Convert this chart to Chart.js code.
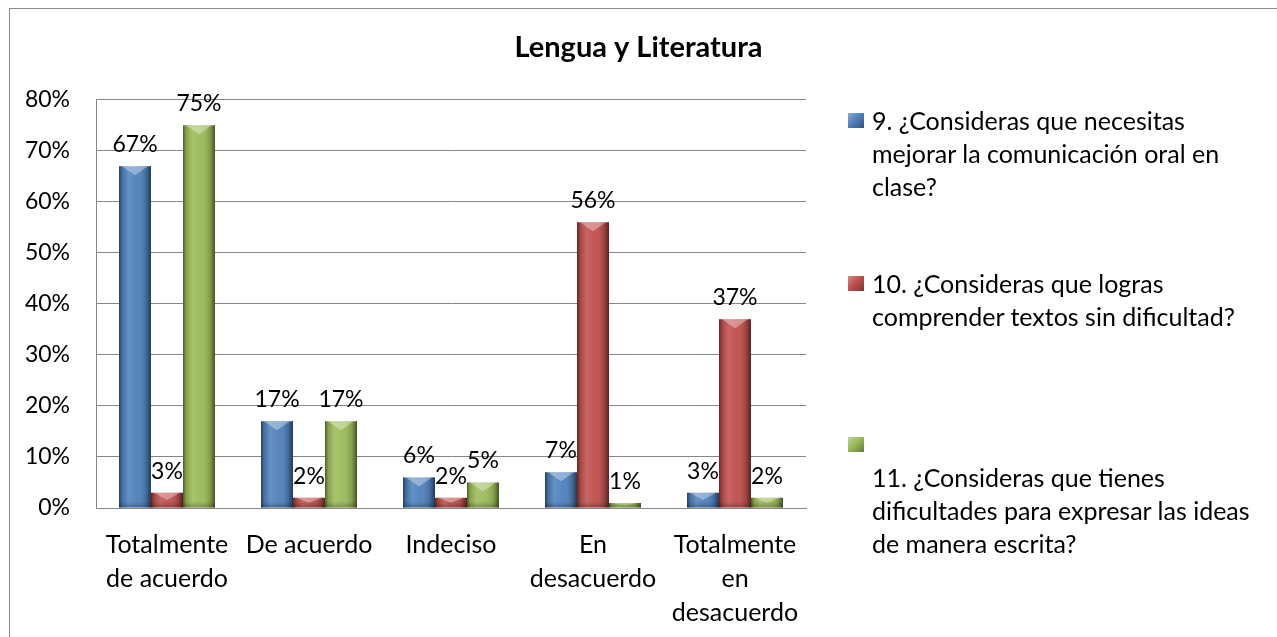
<!DOCTYPE html>
<html>
<head>
<meta charset="utf-8">
<script src="https://cdn.jsdelivr.net/npm/chart.js@4.4.1/dist/chart.umd.min.js"></script>
<style>
html,body{margin:0;padding:0;background:#fff;}
#wrap{position:relative;width:1277px;height:637px;overflow:hidden;background:#fff;}
#frame{position:absolute;left:9px;top:8px;width:1300px;height:700px;border-left:1px solid #8c8c8c;border-top:1px solid #8c8c8c;}
#c{position:absolute;left:0;top:0;}
.leg{position:absolute;left:872px;font-family:Lato,"Liberation Sans",sans-serif;font-size:25px;line-height:33px;color:#000;white-space:nowrap;}
.mk{position:absolute;left:848px;width:16px;height:15px;}
</style>
</head>
<body>
<div id="wrap">
  <div id="frame"></div>
  <canvas id="c" width="1277" height="637"></canvas>
  <div id="legend"></div>
</div>
<script>
// ---- data ----
const chartTitle = 'Lengua y Literatura';
const categories = [['Totalmente', 'de acuerdo'], 'De acuerdo', 'Indeciso', ['En', 'desacuerdo'], ['Totalmente', 'en', 'desacuerdo']];
const q9Label = ['9. ¿Consideras que necesitas', 'mejorar la comunicación oral en', 'clase?'];
const q10Label = ['10. ¿Consideras que logras', 'comprender textos sin dificultad?'];
const q11Label = ['', '11. ¿Consideras que tienes', 'dificultades para expresar las ideas', 'de manera escrita?'];
const q9Values = [67, 17, 6, 7, 3];
const q10Values = [3, 2, 2, 56, 37];
const q11Values = [75, 17, 5, 1, 2];
const yMin = 0, yMax = 80, yStep = 10;

// ---- style ----
const FONT = 'Lato, "Liberation Sans", sans-serif';
const colors = ['#4F81BD', '#C0504D', '#9BBB59'];
const legendTops = [103.5, 266.5, 427.5];
const markerCenters = [120, 283, 444];

const seriesLabels = [q9Label, q10Label, q11Label];
const seriesValues = [q9Values, q10Values, q11Values];

const datasets = seriesValues.map((vals, i) => ({
  label: seriesLabels[i].filter(s => s).join(' '),
  data: vals,
  backgroundColor: colors[i],
  borderWidth: 0,
  barPercentage: 1,
  categoryPercentage: 0.676,
  yAxisID: 'y'
}));

const bevelAndLabels = {
  id: 'bevelAndLabels',
  afterDatasetsDraw(chart) {
    const ctx = chart.ctx;
    chart.data.datasets.forEach((ds, di) => {
      const meta = chart.getDatasetMeta(di);
      meta.data.forEach((el, i) => {
        const p = el.getProps(['x', 'y', 'base', 'width'], true);
        const l = p.x - p.width / 2, r = p.x + p.width / 2;
        const t = Math.min(p.y, p.base), b = Math.max(p.y, p.base), h = b - t;
        ctx.save();
        const g = ctx.createLinearGradient(l, 0, r, 0);
        g.addColorStop(0, 'rgba(0,0,0,0.5)');
        g.addColorStop(0.1, 'rgba(0,0,0,0.14)');
        g.addColorStop(0.3, 'rgba(255,255,255,0.12)');
        g.addColorStop(0.55, 'rgba(255,255,255,0.04)');
        g.addColorStop(0.85, 'rgba(0,0,0,0.18)');
        g.addColorStop(1, 'rgba(0,0,0,0.55)');
        ctx.fillStyle = g;
        ctx.fillRect(l, t, p.width, h);
        const bh = Math.min(9, h / 2);
        ctx.beginPath();
        ctx.moveTo(l + 3, t);
        ctx.lineTo(r - 3, t);
        ctx.lineTo(p.x, t + bh);
        ctx.closePath();
        ctx.fillStyle = 'rgba(255,255,255,0.35)';
        ctx.fill();
        const vg = ctx.createLinearGradient(0, b - 6, 0, b);
        vg.addColorStop(0, 'rgba(0,0,0,0)');
        vg.addColorStop(1, 'rgba(0,0,0,0.25)');
        ctx.fillStyle = vg;
        ctx.fillRect(l, Math.max(t, b - 6), p.width, Math.min(6, h));
        ctx.restore();
      });
    });
    // data labels
    ctx.save();
    ctx.font = '23px ' + FONT;
    ctx.fillStyle = '#000';
    ctx.textAlign = 'center';
    ctx.textBaseline = 'alphabetic';
    chart.data.datasets.forEach((ds, di) => {
      const meta = chart.getDatasetMeta(di);
      meta.data.forEach((el, i) => {
        ctx.fillText(ds.data[i] + '%', el.x, el.y - 14);
      });
    });
    ctx.restore();
  }
};

new Chart(document.getElementById('c'), {
  type: 'bar',
  data: { labels: categories, datasets: datasets },
  options: {
    responsive: false,
    animation: false,
    layout: { padding: { left: 0, right: 0, top: 0, bottom: 0 } },
    plugins: {
      legend: { display: false },
      tooltip: { enabled: false },
      title: {
        display: true,
        text: chartTitle,
        color: '#000',
        font: { family: FONT, size: 29, weight: 'bold', lineHeight: 1.2 },
        padding: { top: 30, bottom: 35 }
      }
    },
    scales: {
      x: {
        grid: { display: false, drawTicks: false },
        border: { display: true, color: '#868686', width: 1 },
        ticks: {
          color: '#000',
          font: { family: FONT, size: 25, lineHeight: 34 / 25 },
          padding: 20,
          maxRotation: 0,
          autoSkip: false
        },
        afterFit(s) { s.height = 129; }
      },
      y: {
        position: 'left',
        min: yMin, max: yMax,
        grid: { color: '#868686', lineWidth: 1, drawTicks: false },
        border: { display: true, color: '#868686', width: 1 },
        ticks: {
          stepSize: yStep,
          color: '#000',
          font: { family: FONT, size: 23 },
          padding: 26,
          callback: v => v + '%'
        },
        afterFit(s) { s.width = 96; }
      },
      legendSpace: {
        type: 'linear',
        position: 'right',
        display: true,
        grid: { display: false, drawTicks: false },
        border: { display: false },
        ticks: { display: false },
        afterFit(s) { s.width = 471; }
      }
    }
  },
  plugins: [bevelAndLabels]
});

// ---- HTML legend ----
const legendEl = document.getElementById('legend');
seriesLabels.forEach((lines, i) => {
  const mk = document.createElement('div');
  mk.className = 'mk';
  mk.style.top = (markerCenters[i] - 7.5) + 'px';
  mk.style.background = 'linear-gradient(135deg, rgba(255,255,255,0.35), rgba(0,0,0,0) 45%, rgba(0,0,0,0.35)), ' + colors[i];
  legendEl.appendChild(mk);
  const tx = document.createElement('div');
  tx.className = 'leg';
  tx.style.top = legendTops[i] + 'px';
  tx.innerHTML = lines.map(s => s === '' ? '&nbsp;' : s.replace(/&/g, '&amp;').replace(/</g, '&lt;')).join('<br>');
  legendEl.appendChild(tx);
});
</script>
</body>
</html>
